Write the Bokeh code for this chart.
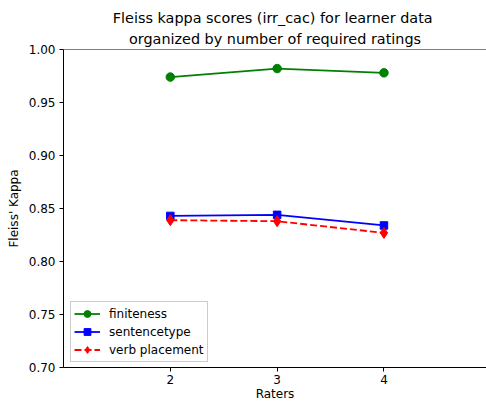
from bokeh.plotting import figure
from bokeh.models import (Range1d, FixedTicker, NumeralTickFormatter, Title,
                          Legend, LegendItem, Span)
from bokeh.embed import file_html
from bokeh.resources import INLINE

# Fleiss kappa per number of raters
raters = [2, 3, 4]
finiteness = [0.974, 0.982, 0.978]
sentencetype = [0.843, 0.844, 0.834]
verb_placement = [0.839, 0.838, 0.827]

y_ticks = [0.70, 0.75, 0.80, 0.85, 0.90, 0.95, 1.00]

FONT = "DejaVu Sans"

p = figure(width=486, height=403, output_backend="svg", toolbar_location=None,
           x_range=Range1d(1.0, 4.96), y_range=Range1d(0.70, 1.00),
           min_border_left=63, min_border_right=0, min_border_top=49,
           min_border_bottom=36, title=None)
p.grid.visible = False
p.outline_line_color = None
p.background_fill_color = "white"
p.border_fill_color = "white"

# two-line title, the second line sits closest to the frame
t2 = Title(text="organized by number of required ratings", align="center",
           text_font=FONT, text_font_size="14.4px", text_font_style="normal",
           text_color="black", standoff=6, offset=2)
t1 = Title(text="Fleiss kappa scores (irr_cac) for  learner data", align="center",
           text_font=FONT, text_font_size="14.4px", text_font_style="normal",
           text_color="black", standoff=0, offset=1)
p.add_layout(t2, "above")
p.add_layout(t1, "above")

for ax in (p.xaxis[0], p.yaxis[0]):
    ax.axis_line_color = "black"
    ax.major_tick_line_color = "black"
    ax.minor_tick_line_color = None
    ax.major_tick_out = 4
    ax.major_tick_in = 0
    ax.major_label_text_font = FONT
    ax.major_label_text_font_size = "12px"
    ax.major_label_text_color = "black"
    ax.axis_label_text_font = FONT
    ax.axis_label_text_font_size = "12px"
    ax.axis_label_text_font_style = "normal"
    ax.axis_label_text_color = "black"

p.xaxis.ticker = FixedTicker(ticks=raters)
p.yaxis.ticker = FixedTicker(ticks=y_ticks)
p.yaxis.formatter = NumeralTickFormatter(format="0.00")
p.xaxis.axis_label = "Raters"
p.yaxis.axis_label = "Fleiss' Kappa"
p.xaxis.major_label_standoff = 3
p.xaxis.axis_label_standoff = 0
p.yaxis.major_label_standoff = 4
p.yaxis.axis_label_standoff = 5

# top spine
p.add_layout(Span(location=1.0, dimension="width", line_color="black", line_width=1))

l1 = p.line(raters, finiteness, line_color="green", line_width=1.8)
m1 = p.scatter(raters, finiteness, marker="circle", size=8.5, fill_color="green",
               line_color="green")
l2 = p.line(raters, sentencetype, line_color="blue", line_width=1.8)
m2 = p.scatter(raters, sentencetype, marker="square", size=7.5, fill_color="blue",
               line_color="blue")
l3 = p.line(raters, verb_placement, line_color="red", line_width=1.8,
            line_dash="7 3")
m3 = p.scatter(raters, verb_placement, marker="diamond", size=11, fill_color="red",
               line_color="red")

legend = Legend(items=[
    LegendItem(label="finiteness", renderers=[l1, m1]),
    LegendItem(label="sentencetype", renderers=[l2, m2]),
    LegendItem(label="verb placement", renderers=[l3, m3]),
], location=(7, 5))
legend.label_text_font = FONT
legend.label_text_font_size = "12px"
legend.label_text_color = "black"
legend.border_line_color = "#cccccc"
legend.border_line_alpha = 1.0
legend.background_fill_alpha = 0.8
legend.glyph_width = 26
legend.glyph_height = 17
legend.label_height = 17
legend.spacing = 1
legend.padding = 3
legend.margin = 0
legend.label_standoff = 9
p.add_layout(legend, "center")

open("out.html", "w").write(file_html(p, INLINE))
